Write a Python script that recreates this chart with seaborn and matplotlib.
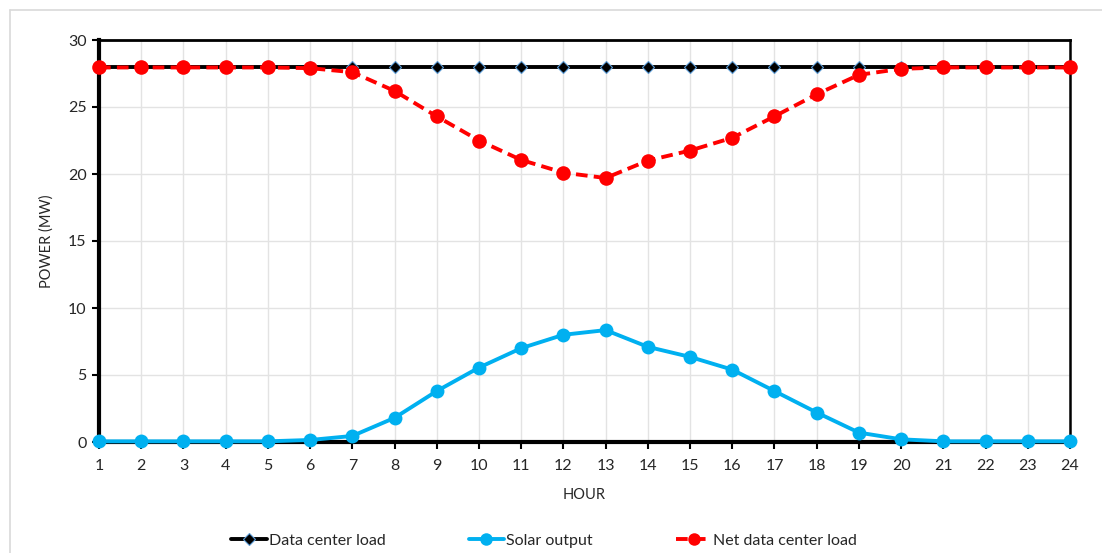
import matplotlib
matplotlib.use("Agg")
import matplotlib.pyplot as plt
from matplotlib.lines import Line2D
import seaborn as sns
import pandas as pd

hours = list(range(1, 25))
data_center_load = [28.0] * 24
solar_output = [0.05, 0.05, 0.05, 0.05, 0.05, 0.15, 0.45, 1.8, 3.8, 5.55, 7.0, 8.0,
                8.35, 7.1, 6.35, 5.4, 3.8, 2.2, 0.7, 0.2, 0.05, 0.05, 0.05, 0.05]
net_load = [27.95, 27.95, 27.95, 27.95, 27.95, 27.9, 27.6, 26.2, 24.3, 22.5, 21.05, 20.1,
            19.7, 21.0, 21.75, 22.7, 24.3, 25.95, 27.4, 27.85, 27.95, 27.95, 27.95, 27.95]
y_ticks = [0, 5, 10, 15, 20, 25, 30]

sns.set_theme(style="white")
plt.rcParams["font.family"] = ["Lato", "DejaVu Sans"]

df = pd.DataFrame({"hour": hours, "load": data_center_load,
                   "solar": solar_output, "net": net_load})

fig = plt.figure(figsize=(11.02, 5.53), dpi=100)
ax = fig.add_axes([99 / 1102, 1 - 442 / 553, (1070 - 99) / 1102, (442 - 40) / 553])

# light outer frame of the chart area
fig.add_artist(Line2D([10 / 1102, 1.0], [1 - 10 / 553] * 2, color="#d9d9d9", lw=1.2,
                      transform=fig.transFigure))
fig.add_artist(Line2D([10 / 1102] * 2, [0, 1 - 10 / 553], color="#d9d9d9", lw=1.2,
                      transform=fig.transFigure))

sns.lineplot(data=df, x="hour", y="load", ax=ax, color="black", lw=2.8,
             marker="D", markersize=6, markerfacecolor="black",
             markeredgecolor="#5b9bd5", markeredgewidth=0.8, clip_on=False, zorder=3)
sns.lineplot(data=df, x="hour", y="solar", ax=ax, color="#00b0f0", lw=2.8,
             marker="o", markersize=10, markeredgewidth=0, clip_on=False, zorder=4)
sns.lineplot(data=df, x="hour", y="net", ax=ax, color="#ff0000", lw=2.8,
             linestyle=(0, (3, 1.6)), marker="o", markersize=10.5, markeredgewidth=0,
             clip_on=False, zorder=5)

ax.set_xlim(1, 24)
ax.set_ylim(0, 30)
ax.set_xticks(hours)
ax.set_yticks(y_ticks)
ax.tick_params(axis="both", labelsize=11.5, length=5, width=1.5, color="black",
               direction="out", pad=4)
ax.tick_params(axis="x", pad=7)
ax.xaxis.set_ticks_position("bottom")
ax.yaxis.set_ticks_position("left")
ax.grid(True, color="#e3e3e3", lw=1)
ax.set_axisbelow(True)

for side, w in {"left": 3, "bottom": 3, "top": 2, "right": 1.8}.items():
    ax.spines[side].set_visible(True)
    ax.spines[side].set_color("black")
    ax.spines[side].set_linewidth(w)

ax.set_xlabel("HOUR", fontsize=10.5, labelpad=11)
ax.set_ylabel("POWER (MW)", fontsize=10.5, labelpad=10)

handles = [
    Line2D([], [], color="black", lw=2.8, marker="D", markersize=6,
           markerfacecolor="black", markeredgecolor="#5b9bd5", markeredgewidth=0.8),
    Line2D([], [], color="#00b0f0", lw=2.8, marker="o", markersize=9, markeredgewidth=0),
    Line2D([], [], color="#ff0000", lw=2.8, linestyle=(0, (3, 1.6)), marker="o",
           markersize=9, markeredgewidth=0),
]
labels = ["Data center load", "Solar output", "Net data center load"]
fig.legend(handles, labels, loc="center", bbox_to_anchor=(0.494, 1 - 541 / 553),
           ncol=3, frameon=False, fontsize=11.5, handlelength=2.2, handletextpad=0.15,
           columnspacing=5.2)

fig.savefig("out.png", dpi=100, facecolor="white")
